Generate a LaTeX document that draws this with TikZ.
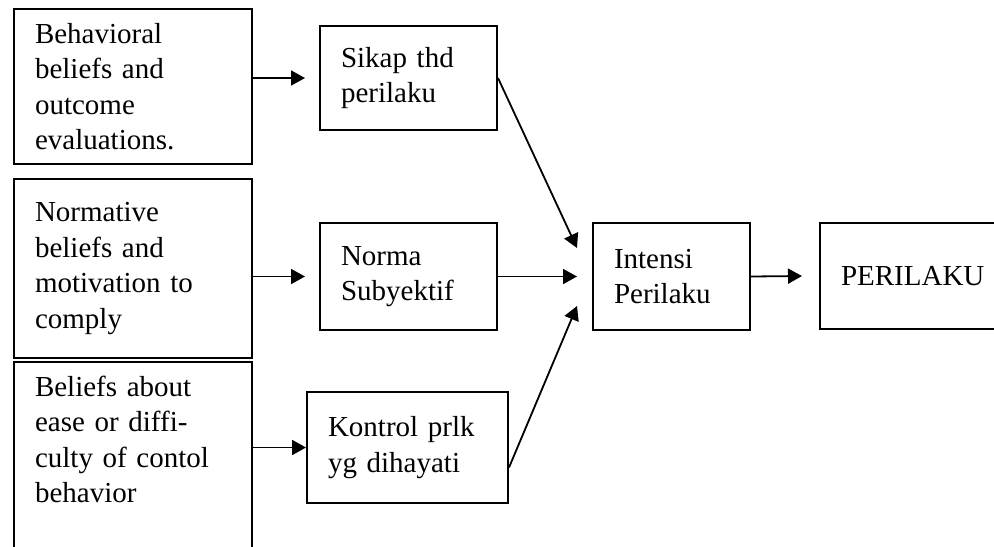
\documentclass[tikz,border=0pt]{standalone}
\usepackage{fontspec}
\setmainfont{Liberation Serif}
\usetikzlibrary{arrows.meta}

\begin{document}
\begin{tikzpicture}[
    x=0.5pt,
    y=-0.5pt,
    line width=1pt,
    >={Triangle[length=7pt,width=7.5pt]},
    bx/.style ={
        rectangle,
        draw=black,
        align=left,
        inner xsep=10.5pt,
        font=\fontsize{14.5}{17.75}\selectfont
    },
    arr/.style ={
        ->,
        line width=0.9pt
    }
    ]
    \useasboundingbox (0,0) rectangle (994,546);

    \node[bx, text width=98pt, minimum height=77.5pt] (beh) at (133,86.5)
        {Behavioral\\ beliefs and\\ outcome\\ evaluations.};
    \node[bx, text width=98pt, minimum height=89.5pt] (norm) at (133,268.5)
        {Normative\\ beliefs and\\ motivation to\\ comply};
    \node[bx, text width=98pt, anchor=north, inner ysep=7pt, text depth=90pt] (ease) at (133,361)
        {Beliefs about\\ ease or diffi-\\ culty of contol\\ behavior};

    \node[bx, text width=67.5pt, minimum height=52pt] (sikap) at (408.5,78)
        {Sikap thd\\ perilaku};
    \node[bx, text width=67.5pt, minimum height=53.5pt] (norma) at (408.5,276.5)
        {Norma\\ Subyektif};
    \node[bx, text width=79.5pt, minimum height=55.5pt] (kontrol) at (407.5,447.5)
        {Kontrol prlk\\ yg dihayati};

    \node[bx, text width=57.5pt, minimum height=53.5pt] (intensi) at (671.5,276.5)
        {Intensi\\ Perilaku};
    \node[bx, text width=74pt, minimum height=53pt] (perilaku) at (915,276)
        {PERILAKU};

    \draw[arr] (beh.east |- sikap.west) -- ([xshift=-7pt]sikap.west);
    \draw[arr] (norm.east |- norma.west) -- ([xshift=-7pt]norma.west);
    \draw[arr] (ease.east |- kontrol.west) -- (kontrol.west);

    \draw[arr] (sikap.east) -- ([xshift=-7.5pt,yshift=-13pt]intensi.north west);
    \draw[arr] (norma.east) -- ([xshift=-7.5pt]intensi.west);
    \draw[arr] ([yshift=-10pt]kontrol.east) -- ([xshift=-7.5pt,yshift=12.5pt]intensi.south west);

    \draw[arr] (intensi.east) -- ([xshift=-8.5pt]perilaku.west);
\end{tikzpicture}
\end{document}
